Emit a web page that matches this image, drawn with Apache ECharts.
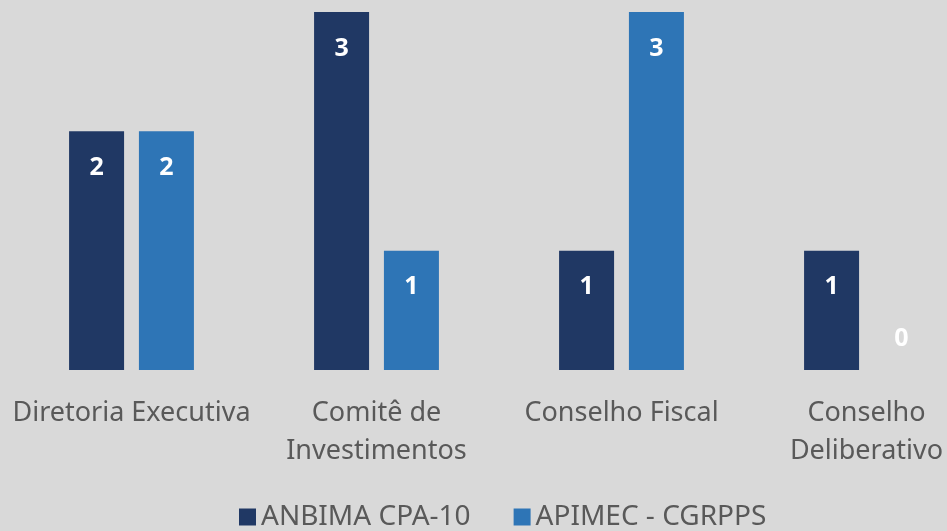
<!DOCTYPE html>
<html>
<head>
<meta charset="utf-8">
<script src="https://cdn.jsdelivr.net/npm/echarts@6/dist/echarts.min.js"></script>
<style>
  html, body { margin: 0; padding: 0; background: #d9d9d9; }
  #chart { width: 947px; height: 531px; }
</style>
</head>
<body>
<div id="chart"></div>
<script>
var categories = ["Diretoria Executiva", "Comitê de\nInvestimentos", "Conselho Fiscal", "Conselho\nDeliberativo"];
var anbima = [2, 3, 1, 1];
var apimec = [2, 1, 3, 0];

function toData(values) {
  return values.map(function (v) {
    if (v === 0) {
      return { value: v, label: { position: "top", distance: 19 } };
    }
    return v;
  });
}

var labelStyle = {
  show: true,
  position: "insideTop",
  distance: 24,
  color: "#ffffff",
  fontWeight: "bold",
  fontSize: 25,
  fontFamily: "Open Sans"
};

var myEcharts = echarts.init(document.getElementById("chart"));
myEcharts.setOption({
  backgroundColor: "#d9d9d9",
  animation: false,
  grid: {
    left: 9,
    width: 980,
    top: 12,
    bottom: 161,
    containLabel: false,
    outerBoundsMode: "none"
  },
  legend: {
    top: 498,
    left: 234,
    icon: "rect",
    itemWidth: 17,
    itemHeight: 17,
    itemGap: 43,
    itemTextGap: 7,
    textStyle: {
      color: "#595959",
      fontSize: 28,
      fontFamily: "Noto Sans"
    },
    data: ["ANBIMA CPA-10", "APIMEC - CGRPPS"]
  },
  xAxis: {
    type: "category",
    data: categories,
    axisLine: { show: false },
    axisTick: { show: false },
    axisLabel: {
      margin: 24,
      color: "#595959",
      fontSize: 27,
      lineHeight: 38,
      fontFamily: "Noto Sans",
      interval: 0
    }
  },
  yAxis: {
    type: "value",
    min: 0,
    max: 3,
    show: false,
    splitLine: { show: false }
  },
  series: [
    {
      name: "ANBIMA CPA-10",
      type: "bar",
      barWidth: 55,
      barGap: "27%",
      itemStyle: { color: "#203864" },
      label: labelStyle,
      data: toData(anbima)
    },
    {
      name: "APIMEC - CGRPPS",
      type: "bar",
      barWidth: 55,
      barGap: "27%",
      itemStyle: { color: "#2e75b6" },
      label: labelStyle,
      data: toData(apimec)
    }
  ]
});
</script>
</body>
</html>
